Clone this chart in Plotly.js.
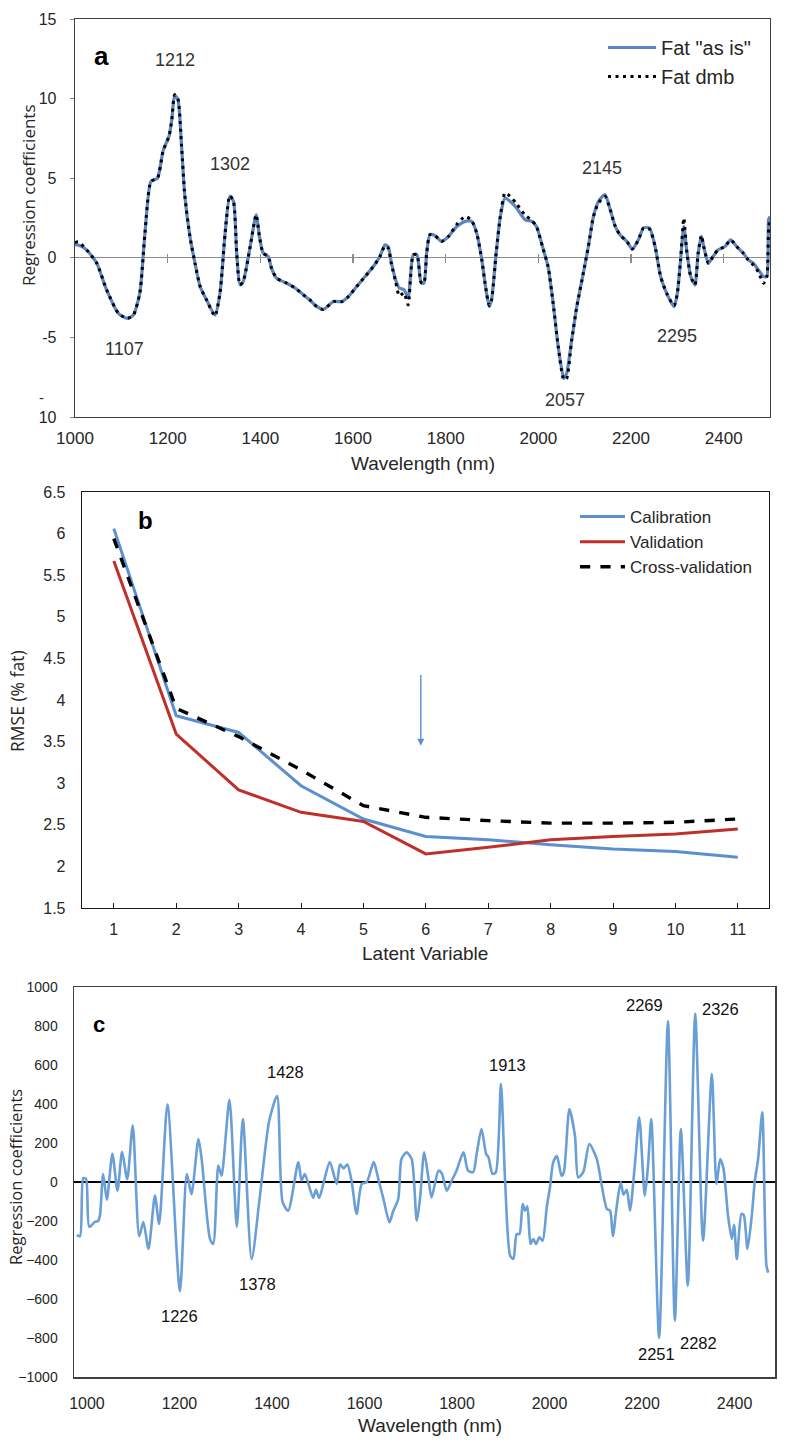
<!DOCTYPE html>
<html><head><meta charset="utf-8">
<script src="https://cdn.plot.ly/plotly-3.0.1.min.js"></script>
<style>html,body{margin:0;padding:0;background:#fff}#chart{width:789px;height:1451px}</style>
</head><body><div id="chart"></div>
<script>
// ---------------- Panel a : regression coefficients (fat) ----------------
const wavelengthA = [1000,1007,1025,1047,1068,1094,1113,1126,1140,1151,
1164,1178,1190,1203,1209,1215,1222,1230,1237,1248,
1259,1270,1284,1302,1313,1324,1334,1342,1349,1356,
1363,1378,1391,1398,1406,1417,1424,1435,1457,1475,
1493,1507,1522,1536,1558,1576,1590,1608,1626,1644,
1658,1669,1676,1683,1692,1700,1710,1719,1730,1738,
1747,1753,1759,1766,1777,1791,1806,1824,1842,1856,
1867,1878,1886,1894,1899,1909,1918,1928,1939,1953,
1971,1986,1996,2009,2021,2032,2043,2055,2061,2072,
2083,2097,2108,2119,2130,2144,2153,2166,2176,2191,
2203,2216,2227,2240,2252,2264,2277,2293,2300,2307,
2314,2320,2329,2338,2345,2352,2357,2367,2377,2388,
2403,2415,2428,2442,2453,2464,2475,2486,2493,2497,
2500];
const fatAsIs = [0.82,0.80,0.50,-0.34,-2.00,-3.50,-3.80,-3.60,-2.20,1.55,
4.80,5.00,6.70,7.65,8.70,10.20,9.95,7.00,3.90,1.35,
-0.34,-1.80,-2.65,-3.60,-2.20,1.55,3.87,3.55,0.30,-1.70,
-1.50,0.70,2.70,1.35,0.30,0.08,-0.65,-1.28,-1.60,-1.90,
-2.33,-2.65,-3.07,-3.24,-2.75,-2.75,-2.44,-1.80,-1.18,-0.55,
0.08,0.82,0.70,-0.34,-1.39,-1.90,-2.00,-2.50,0.19,0.19,
-1.55,-1.60,0.30,1.45,1.39,1.03,1.34,1.97,2.29,2.29,
1.55,-0.13,-1.80,-3.07,-2.65,0.30,2.60,3.76,3.55,3.13,
2.40,2.29,1.97,0.70,-0.55,-2.86,-5.60,-7.58,-7.27,-5.17,
-3.07,-0.97,0.71,2.60,3.55,3.97,3.24,1.97,1.45,1.03,
0.55,1.13,1.87,1.87,0.71,-1.18,-2.23,-3.07,-2.23,-0.13,
1.97,0.50,-1.18,-1.70,0.30,1.34,0.71,-0.34,0.08,0.50,
0.71,1.13,0.71,0.30,-0.13,-0.34,-0.76,-1.18,-1.18,2.40,
2.60];
const fatDmb = [0.95,1.00,0.50,-0.34,-2.00,-3.50,-3.80,-3.60,-2.20,1.55,
4.80,5.00,6.70,7.65,8.70,10.25,10.00,7.00,3.90,1.35,
-0.34,-1.80,-2.65,-3.65,-2.20,1.55,3.90,3.55,0.30,-1.70,
-1.50,0.70,2.70,1.35,0.30,0.08,-0.65,-1.28,-1.60,-1.90,
-2.33,-2.65,-3.07,-3.24,-2.75,-2.75,-2.44,-1.80,-1.18,-0.55,
0.08,0.75,0.60,-0.40,-1.50,-2.40,-2.20,-2.96,0.19,0.19,
-1.55,-1.60,0.30,1.45,1.39,1.03,1.34,2.10,2.60,2.35,
1.55,-0.13,-1.80,-3.00,-2.65,0.30,2.60,4.08,3.87,3.40,
2.70,2.35,1.97,0.70,-0.55,-2.86,-5.60,-7.65,-7.60,-5.17,
-3.07,-0.97,0.71,2.60,3.45,3.85,3.24,1.97,1.45,1.03,
0.55,1.13,1.87,1.80,0.71,-1.18,-2.23,-3.00,-2.23,-0.13,
2.50,0.50,-1.18,-1.70,0.30,1.40,0.71,-0.34,0.08,0.50,
0.71,1.13,0.71,0.30,-0.13,-0.45,-0.90,-1.60,-1.20,1.80,
2.50];
const seriesNamesA = ['Fat "as is"', 'Fat dmb'];
const xTickValsA = [1000,1200,1400,1600,1800,2000,2200,2400];
const yTickValsA = [-10,-5,0,5,10,15];
const yTickTextA = ['10','-5','0','5','10','15'];
const peakTextA = ['1212','1302','1107','2145','2057','2295'];
const peakXA = [1216,1334,1106,2137,2058,2299];
const peakYA = [12.4,5.9,-5.7,5.65,-8.95,-4.9];

// ---------------- Panel b : RMSE vs latent variables ----------------
const latentVariables = [1,2,3,4,5,6,7,8,9,10,11];
const rmseCalibration = [6.06,3.81,3.61,2.97,2.57,2.36,2.32,2.26,2.21,2.18,2.11];
const rmseValidation = [5.67,3.59,2.92,2.65,2.54,2.15,2.23,2.32,2.36,2.39,2.45];
const rmseCrossValidation = [5.94,3.90,3.56,3.16,2.73,2.59,2.55,2.52,2.52,2.53,2.57];
const seriesNamesB = ['Calibration','Validation','Cross-validation'];
const yTickValsB = [1.5,2,2.5,3,3.5,4,4.5,5,5.5,6,6.5];
const yTickTextB = ['1.5','2','2.5','3','3.5','4','4.5','5','5.5','6','6.5'];
const arrowLV = 5.92, arrowFrom = 4.32, arrowTo = 3.45;

// ---------------- Panel c : regression coefficients ----------------
const wavelengthC = [978,985,992,998,1005,1017,1024,1028,1035,1043,
1055,1066,1076,1087,1099,1113,1122,1133,1147,1156,
1174,1201,1216,1226,1241,1248,1266,1273,1284,1291,
1308,1324,1337,1356,1374,1394,1411,1423,1435,1457,
1464,1471,1489,1495,1502,1511,1525,1540,1547,1555,
1563,1572,1583,1594,1605,1620,1630,1641,1654,1662,
1673,1680,1691,1702,1713,1720,1729,1738,1745,1760,
1767,1778,1788,1799,1814,1824,1835,1843,1853,1863,
1868,1877,1884,1895,1904,1915,1922,1929,1935,1942,
1947,1952,1959,1965,1971,1978,1985,1994,2001,2008,
2016,2026,2031,2043,2055,2062,2073,2086,2102,2113,
2124,2131,2137,2145,2154,2160,2167,2174,2185,2194,
2206,2213,2220,2237,2256,2271,2284,2299,2315,2332,
2351,2361,2369,2376,2386,2394,2399,2405,2415,2420,
2428,2437,2444,2451,2460,2469,2473];
const regCoefC = [-272,-278,20,15,-230,-205,-200,-173,41,-91,
144,-45,155,15,289,-278,-205,-343,-70,-215,
397,-560,41,-62,220,118,-292,-318,84,32,
422,-230,323,-395,-70,314,441,-103,-147,102,
7,41,-82,-40,-82,-10,102,-10,90,70,
90,7,-164,-10,0,102,15,-87,-207,-150,
-87,118,152,118,-198,-87,152,24,-79,58,
45,-45,4,58,152,58,51,152,272,144,
127,41,50,503,7,-378,-395,-267,-267,-113,
-147,-125,-318,-292,-318,-284,-301,-130,-27,101,
133,32,50,374,237,24,51,195,120,-19,
-138,-147,-278,-130,-2,-65,-40,-147,101,332,
-70,84,323,-800,824,-711,272,-532,862,-301,
554,-10,118,70,-173,-292,-220,-395,-164,-170,
-343,-180,7,118,357,-429,-465];
const xTickValsC = [1000,1200,1400,1600,1800,2000,2200,2400];
const yTickValsC = [-1000,-800,-600,-400,-200,0,200,400,600,800,1000];
const peakTextC = ['1428','1226','1378','1913','2269','2326','2251','2282'];
const peakXC = [1430,1201,1368,1910,2206,2370,2232,2323];
const peakYC = [565,-688,-523,600,908,887,-882,-826];

// ---------------- layout helpers ----------------
const W = 789, H = 1451;
const fx = p => p / W, fy = p => 1 - p / H;
const LAB = "'Liberation Sans', Arial, sans-serif";
const TTL = "'Open Sans', 'DejaVu Sans', sans-serif";
const TXT = '#262626';
const BLUE_A = '#5b86c2', BLUE_B = '#5b8fd0', RED = '#c0302a', BLUE_C = '#699fd6';

const aX = [fx(75), fx(770)], aY = [fy(417), fy(19)], aXr = [1000, 2500], aYr = [-10, 15];
const bX = [fx(82), fx(769)], bY = [fy(908), fy(492)], bXr = [0.49, 11.5], bYr = [1.5, 6.5];
const cX = [fx(74), fx(775)], cY = [fy(1377), fy(987)], cXr = [972, 2487.5], cYr = [-1000, 1000];
const zeroPaperA = aY[0] + (0 - aYr[0]) / (aYr[1] - aYr[0]) * (aY[1] - aY[0]);

const traces = [
  {x: wavelengthA, y: fatAsIs, name: seriesNamesA[0], type: 'scatter', mode: 'lines',
   line: {color: BLUE_A, width: 3.2, shape: 'spline', smoothing: 0.6}, xaxis: 'x', yaxis: 'y', legend: 'legend'},
  {x: wavelengthA, y: fatDmb, name: seriesNamesA[1], type: 'scatter', mode: 'lines',
   line: {color: '#000', width: 3, dash: '3px,4.5px', shape: 'spline', smoothing: 0.6}, xaxis: 'x', yaxis: 'y', legend: 'legend'},
  {x: [], y: [], xaxis: 'x4', yaxis: 'y', showlegend: false, hoverinfo: 'skip', type: 'scatter'},
  {x: latentVariables, y: rmseCalibration, name: seriesNamesB[0], type: 'scatter', mode: 'lines',
   line: {color: BLUE_B, width: 3}, xaxis: 'x2', yaxis: 'y2', legend: 'legend2'},
  {x: latentVariables, y: rmseValidation, name: seriesNamesB[1], type: 'scatter', mode: 'lines',
   line: {color: RED, width: 3}, xaxis: 'x2', yaxis: 'y2', legend: 'legend2'},
  {x: latentVariables, y: rmseCrossValidation, name: seriesNamesB[2], type: 'scatter', mode: 'lines',
   line: {color: '#000', width: 3.4, dash: 'dash'}, xaxis: 'x2', yaxis: 'y2', legend: 'legend2'},
  {x: wavelengthC, y: regCoefC, name: 'c', type: 'scatter', mode: 'lines', showlegend: false,
   line: {color: BLUE_C, width: 2.6, shape: 'spline', smoothing: 0.7}, xaxis: 'x3', yaxis: 'y3'}
];

const ann = [];
function txt(text, x, y, xref, yref, size, extra) {
  ann.push(Object.assign({text: text, x: x, y: y, xref: xref, yref: yref, showarrow: false,
    xanchor: 'center', yanchor: 'middle', font: {family: LAB, size: size, color: TXT}}, extra || {}));
}
// panel a
txt('<b>a</b>', 1057, 12.7, 'x', 'y', 26, {font: {family: LAB, size: 26, color: '#000'}});
peakTextA.forEach((t, i) => txt(t, peakXA[i], peakYA[i], 'x', 'y', 18, {font: {family: LAB, size: 18, color: '#333'}}));
txt('-', fx(41), fy(397), 'paper', 'paper', 15);
txt('Regression coefficients', fx(28), fy(195), 'paper', 'paper', 17, {textangle: -90, font: {family: TTL, size: 17, color: TXT}});
txt('Wavelength (nm)', fx(423), fy(463), 'paper', 'paper', 19);
// panel b
txt('<b>b</b>', 1.5, 6.16, 'x2', 'y2', 24, {font: {family: LAB, size: 24, color: '#000'}});
ann.push({x: arrowLV, y: arrowTo, ax: arrowLV, ay: arrowFrom, xref: 'x2', yref: 'y2', axref: 'x2', ayref: 'y2',
  text: '', showarrow: true, arrowhead: 2, arrowsize: 1, arrowwidth: 1.4, arrowcolor: BLUE_B});
txt('RMSE (% fat)', fx(17), fy(701), 'paper', 'paper', 17.5, {textangle: -90, font: {family: TTL, size: 17.5, color: TXT}});
txt('Latent Variable', fx(425), fy(953), 'paper', 'paper', 19);
// panel c
txt('<b>c</b>', 1026, 810, 'x3', 'y3', 22, {font: {family: LAB, size: 22, color: '#000'}});
peakTextC.forEach((t, i) => txt(t, peakXC[i], peakYC[i], 'x3', 'y3', 16.5, {font: {family: LAB, size: 16.5, color: '#111'}}));
txt('Regression coefficients', fx(15), fy(1177), 'paper', 'paper', 16.5, {textangle: -90, font: {family: TTL, size: 16.5, color: TXT}});
txt('Wavelength (nm)', fx(430), fy(1425), 'paper', 'paper', 19);

const frame = (c, w) => ({showline: true, mirror: true, linecolor: c, linewidth: w, showgrid: false});

const layout = {
  width: W, height: H, margin: {l: 0, r: 0, t: 0, b: 0}, paper_bgcolor: '#fff', plot_bgcolor: 'rgba(0,0,0,0)',
  showlegend: true, hovermode: false,
  xaxis: Object.assign(frame('#404040', 1.3), {domain: aX, anchor: 'y', range: aXr, tickvals: xTickValsA,
    ticks: '', zeroline: false, tickfont: {family: LAB, size: 17, color: TXT}, ticklabelstandoff: 5}),
  yaxis: Object.assign(frame('#404040', 1.3), {domain: aY, anchor: 'x', range: aYr, tickvals: yTickValsA, ticktext: yTickTextA,
    ticks: 'outside', ticklen: 4, tickcolor: '#808080', zeroline: true, zerolinecolor: '#8c8c8c', zerolinewidth: 1.3,
    tickfont: {family: LAB, size: 16, color: TXT}, ticklabelstandoff: 10}),
  xaxis4: {overlaying: 'x', anchor: 'free', position: zeroPaperA + 4.5 / H, domain: aX, range: aXr,
    tickvals: xTickValsA.slice(1), ticks: 'outside', ticklen: 9, tickcolor: '#8c8c8c', tickwidth: 1.2,
    showticklabels: false, showline: false, showgrid: false, zeroline: false},
  xaxis2: Object.assign(frame('#1a1a1a', 1.3), {domain: bX, anchor: 'y2', range: bXr, tickvals: latentVariables,
    ticks: 'inside', ticklen: 5, tickcolor: '#1a1a1a', zeroline: false, tickfont: {family: LAB, size: 16, color: TXT}, ticklabelstandoff: 6}),
  yaxis2: Object.assign(frame('#1a1a1a', 1.3), {domain: bY, anchor: 'x2', range: bYr, tickvals: yTickValsB, ticktext: yTickTextB,
    ticks: '', zeroline: false, tickfont: {family: LAB, size: 16, color: TXT}, ticklabelstandoff: 12}),
  xaxis3: Object.assign(frame('#404040', 1.5), {domain: cX, anchor: 'y3', range: cXr, tickvals: xTickValsC,
    ticks: '', zeroline: false, tickfont: {family: LAB, size: 16, color: TXT}, ticklabelstandoff: 11}),
  yaxis3: Object.assign(frame('#404040', 1.5), {domain: cY, anchor: 'x3', range: cYr, tickvals: yTickValsC,
    ticks: '', zeroline: true, zerolinecolor: '#000', zerolinewidth: 1.3, tickfont: {family: LAB, size: 14, color: TXT}, ticklabelstandoff: 12}),
  legend: {x: fx(603), y: fy(28), xanchor: 'left', yanchor: 'top', bgcolor: 'rgba(0,0,0,0)', borderwidth: 0,
    font: {family: LAB, size: 20, color: TXT}, itemwidth: 48, tracegroupgap: 0},
  legend2: {x: fx(575), y: fy(499), xanchor: 'left', yanchor: 'top', bgcolor: 'rgba(0,0,0,0)', borderwidth: 0,
    font: {family: LAB, size: 17, color: TXT}, itemwidth: 45, tracegroupgap: 0},
  annotations: ann
};

Plotly.newPlot('chart', traces, layout, {staticPlot: true, displayModeBar: false});
</script></body></html>
